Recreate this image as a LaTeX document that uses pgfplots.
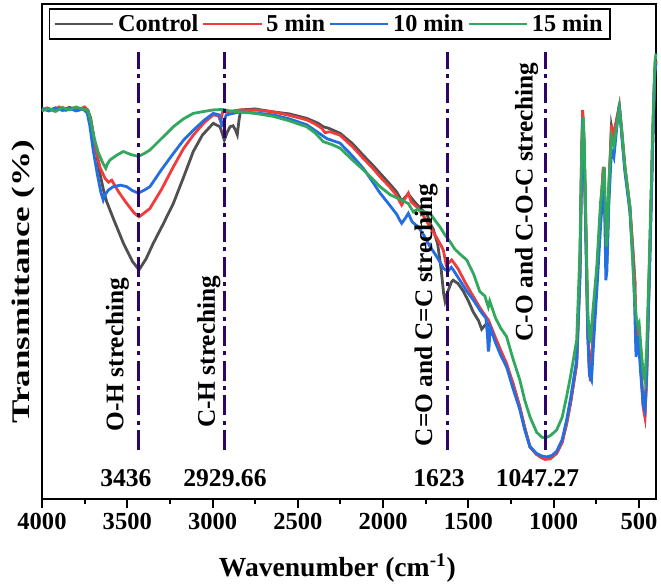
\documentclass[border=0pt]{standalone}
\usepackage{fontspec}
\setmainfont{Liberation Serif}
\usepackage{graphicx}
\usepackage{pgfplots}
\pgfplotsset{compat=1.18}
\definecolor{cgray}{RGB}{80,80,80}
\definecolor{cred}{RGB}{240,60,60}
\definecolor{cblue}{RGB}{35,110,225}
\definecolor{cgreen}{RGB}{50,168,95}
\definecolor{cvl}{RGB}{45,5,105}
\begin{document}
\begin{tikzpicture}
\begin{axis}[
 scale only axis, width=460.5pt, height=371.25pt,
 xmin=400, xmax=4000, ymin=0, ymax=100, x dir=reverse,
 xtick={500,1000,...,4000}, minor x tick num=1,
 ytick=\empty, xtick pos=left,
 tick align=outside,
 major tick length=7pt, minor tick length=3.5pt,
 every tick/.style={black, line width=1.5pt},
 axis line style={line width=1.8pt},
 clip=false,
 /pgf/number format/assume math mode=true,
 /pgf/number format/set thousands separator={},
 xticklabel style={font=\fontsize{18.4}{18.4}\selectfont\bfseries},
 xlabel={Wavenumber (cm\textsuperscript{-1})},
 xlabel style={font=\fontsize{20.7}{20.7}\selectfont\bfseries, at={([yshift=-58.3pt]axis description cs:0.481,0)}, anchor=base},
 ylabel={\scalebox{1.38}[1]{Transmittance (\%)}},
 ylabel style={font=\fontsize{19}{19}\selectfont\bfseries, at={([xshift=-14.25pt]axis description cs:0,0.439)}, anchor=center},
 legend style={at={(axis description cs:0.0107,0.991)}, anchor=north west, legend columns=4, draw=black, line width=1.2pt,
   font=\fontsize{18.2}{18.2}\selectfont\bfseries, inner xsep=3pt, inner ysep=2pt,
   /tikz/every odd column/.append style={column sep=0pt},
   /tikz/every even column/.append style={column sep=0pt},
   nodes={inner xsep=2.5pt}},
 legend image code/.code={\draw[#1, line width=2pt] (0pt,0pt) -- (44pt,0pt);},
]
\coordinate (SW) at (rel axis cs:0,0);
\coordinate (NE) at (rel axis cs:1,1);

\addplot[cgray, line width=2.1pt] coordinates {(4000,78.8) (3960,78.5) (3920,79.0) (3880,78.6) (3840,79.1) (3800,78.7) (3760,79.0) (3730,78.4) (3715,77.0) (3690,72.0) (3665,66.5) (3640,62.5) (3621,60.1) (3580,56.5) (3523,51.7) (3470,48.0) (3431,46.3) (3390,48.5) (3347,51.7) (3290,55.5) (3230,59.7) (3170,65.0) (3113,70.2) (3060,73.5) (2996,75.9) (2956,75.2) (2940,73.5) (2931,72.5) (2915,74.0) (2898,75.2) (2880,75.4) (2865,74.5) (2855,73.6) (2845,76.5) (2835,78.6) (2750,78.8) (2644,78.2) (2550,77.8) (2448,76.9) (2380,75.9) (2351,75.2) (2320,74.9) (2253,73.9) (2180,71.8) (2116,69.4) (2060,67.4) (2018,65.8) (1960,63.6) (1920,62.0) (1891,60.2) (1870,61.0) (1852,61.6) (1820,60.2) (1794,59.2) (1760,58.0) (1744,57.7) (1725,55.7) (1706,54.5) (1680,51.5) (1660,46.5) (1645,41.5) (1637,40.0) (1625,41.5) (1600,43.8) (1589,44.2) (1560,43.5) (1530,42.0) (1500,40.0) (1472,37.8) (1440,36.0) (1422,34.3) (1400,35.2) (1383,35.5) (1360,33.5) (1325,31.1) (1300,28.8) (1276,26.8) (1240,23.5) (1198,18.4) (1170,14.5) (1139,10.5) (1100,9.0) (1070,8.5) (1051,8.3) (1020,8.4) (983,9.2) (950,11.5) (924,15.2) (900,19.5) (865,27.3) (846,45) (836,68) (830,78.0) (822,72) (811,54) (800,34) (790,26.0) (784,24.5) (770,33) (747,45) (720,60) (709,66.5) (700,60) (694,50.5) (688,48) (676,62) (661,75.2) (650,73) (640,75) (615,79.4) (600,74) (582,66.8) (553,58.8) (535,50) (524,44) (517,31.5) (508,33.5) (499,32) (489,27) (475,19) (465,17.0) (455,25) (436,50) (420,72) (407,86.5) (400,88.5)};
\addlegendentry{Control}

\addplot[cred, line width=2.1pt] coordinates {(4000,78.6) (3970,79.0) (3930,78.4) (3900,79.2) (3860,78.5) (3820,79.0) (3780,78.6) (3750,79.2) (3730,78.5) (3715,76.5) (3690,71.5) (3660,67.0) (3640,65.5) (3631,64.8) (3610,64.0) (3591,64.4) (3550,62.0) (3503,59.7) (3460,57.8) (3431,57.0) (3400,57.8) (3367,58.7) (3300,62.5) (3230,67.1) (3170,70.8) (3113,73.5) (3050,76.0) (2996,77.6) (2965,77.4) (2952,76.2) (2941,78.2) (2900,78.3) (2839,78.6) (2750,78.6) (2644,78.2) (2550,77.5) (2448,76.6) (2400,75.8) (2360,74.9) (2340,74.0) (2312,74.2) (2253,73.5) (2180,71.2) (2116,68.8) (2060,66.8) (2018,65.1) (1960,63.0) (1920,61.3) (1905,60.2) (1891,59.4) (1870,60.8) (1852,61.8) (1835,60.0) (1815,59.4) (1794,58.7) (1760,57.0) (1725,55.0) (1690,53.0) (1660,51.2) (1647,50.3) (1630,47.3) (1612,47.8) (1598,48.3) (1589,47.9) (1560,46.5) (1520,43.8) (1471,40.9) (1430,38.5) (1400,37.0) (1383,36.2) (1340,32.5) (1310,30.0) (1276,27.4) (1240,23.5) (1198,18.6) (1170,14.3) (1139,10.6) (1100,9.0) (1070,8.3) (1051,8.0) (1020,8.1) (983,9.2) (950,11.5) (924,15.3) (900,19.8) (865,27.4) (846,46) (836,70) (830,78.6) (822,72) (811,55) (800,34) (790,25.5) (784,23.8) (770,32) (747,45) (720,61) (709,67.1) (700,60) (694,52) (688,51) (676,63) (661,75.6) (650,73) (640,75) (615,79.4) (600,74) (582,67) (553,59.1) (535,50) (524,44) (517,30.8) (508,34) (499,32) (489,27) (475,18.5) (465,16.6) (455,24) (436,50) (420,72) (407,86.5) (400,88.5)};
\addlegendentry{5 min}

\addplot[cblue, line width=2.1pt] coordinates {(4000,78.9) (3960,78.4) (3920,79.0) (3880,78.5) (3840,78.9) (3800,78.4) (3760,78.8) (3735,78.0) (3720,75.5) (3700,70.5) (3675,65.5) (3655,62.0) (3641,60.4) (3630,61.5) (3611,62.4) (3582,63.1) (3540,63.4) (3503,63.1) (3470,62.3) (3435,61.8) (3400,62.4) (3367,63.1) (3300,66.5) (3230,69.8) (3170,72.5) (3113,74.5) (3050,76.5) (2996,77.9) (2960,77.6) (2945,75.5) (2935,76.0) (2920,77.6) (2880,77.9) (2839,78.2) (2750,78.0) (2644,77.6) (2550,76.8) (2448,75.6) (2380,74.0) (2330,72.8) (2253,71.9) (2180,69.3) (2116,66.8) (2060,64.0) (2018,61.8) (1960,59.3) (1920,57.5) (1905,56.5) (1891,55.7) (1870,56.7) (1852,57.7) (1830,56.0) (1810,55.4) (1794,55.0) (1760,53.2) (1725,51.0) (1690,49.2) (1660,47.5) (1647,46.6) (1620,46.0) (1600,46.8) (1589,46.3) (1550,44.2) (1510,42.0) (1471,40.2) (1430,38.0) (1397,36.5) (1388,33) (1383,29.8) (1378,31) (1373,34.8) (1340,31.5) (1310,29.0) (1276,26.7) (1240,22.5) (1198,18.0) (1170,14.0) (1139,10.6) (1100,9.2) (1070,8.7) (1041,8.5) (1010,8.8) (983,9.6) (950,12.0) (924,16.0) (900,20.5) (865,28.1) (846,45) (836,68) (830,77.0) (822,71) (811,52) (800,33) (790,25.0) (778,24.0) (765,32) (747,42) (725,55) (709,63.5) (700,57) (694,44.2) (688,46) (676,60) (661,70.5) (647,69.0) (630,75) (615,79.8) (600,73) (582,66) (553,58) (535,48) (526,40) (517,28.7) (508,33) (499,30) (489,25) (475,19) (465,17.9) (455,25) (436,48) (420,70) (407,86) (400,88)};
\addlegendentry{10 min}

\addplot[cgreen, line width=2.1pt] coordinates {(4000,78.4) (3960,78.9) (3920,78.3) (3880,79.1) (3840,78.6) (3800,79.2) (3760,78.7) (3732,78.6) (3715,76.5) (3695,73.0) (3670,70.0) (3645,68.0) (3626,66.8) (3615,67.8) (3601,68.5) (3560,69.5) (3523,70.2) (3480,69.6) (3435,69.2) (3400,69.8) (3367,70.5) (3300,72.8) (3230,75.2) (3170,76.8) (3113,77.9) (3050,78.3) (2996,78.6) (2940,78.7) (2900,78.4) (2839,78.2) (2750,77.9) (2644,77.3) (2550,76.4) (2448,75.2) (2400,74.0) (2351,72.2) (2300,71.6) (2253,70.9) (2180,68.5) (2116,66.5) (2060,64.6) (2018,63.1) (1960,61.5) (1900,60.5) (1852,59.7) (1823,58.0) (1800,58.5) (1760,58.0) (1725,57.7) (1700,56.5) (1667,55.0) (1640,53.5) (1608,52.0) (1580,50.5) (1550,49.5) (1510,48.3) (1470,45.5) (1433,41.9) (1403,41.0) (1390,39.5) (1383,38.8) (1375,40.0) (1340,36.5) (1310,34.5) (1276,32.8) (1240,28.5) (1198,24.0) (1170,20.0) (1139,16.6) (1100,13.5) (1070,12.5) (1051,12.3) (1020,12.8) (983,13.9) (950,16.5) (924,20.7) (900,25.0) (865,32.1) (846,50) (836,70) (827,77.2) (820,72) (811,55) (800,38) (790,32.5) (784,32.1) (770,38) (747,47) (725,60) (703,67.1) (696,58) (690,51.0) (683,55) (676,64) (661,73.2) (647,71.5) (630,75.5) (615,79.0) (600,74) (582,67) (553,59.1) (535,47) (524,40) (514,36.2) (505,35) (499,35.5) (489,31) (475,25.5) (465,24.0) (455,30) (436,52) (420,74) (407,88) (400,90)};
\addlegendentry{15 min}

\pgfplotsset{vl/.style={cvl, line width=2pt, dash pattern=on 15pt off 4pt on 3pt off 4pt, forget plot}}
\addplot[vl] coordinates {(3436,9.9) (3436,90.3)};
\addplot[vl] coordinates {(2929.66,9.9) (2929.66,90.3)};
\addplot[vl] coordinates {(1623,9.9) (1623,90.3)};
\addplot[vl] coordinates {(1047.27,9.9) (1047.27,90.3)};

\tikzset{rl/.style={rotate=90, anchor=base west, inner sep=0pt, font=\fontsize{19}{19}\selectfont\bfseries},
         nl/.style={anchor=base, inner sep=0pt, font=\fontsize{19.2}{19.2}\selectfont\bfseries}}
\node[rl] at (axis cs:3523,13.6) {O-H streching};
\node[rl] at (axis cs:2986,14.3) {C-H streching};
\node[rl] at (axis cs:1712,10.6) {C=O and C=C streching};
\node[rl] at (axis cs:1123,31.8) {C-O and C-O-C streching};
\node[nl] at (axis cs:3508,2.5) {3436};
\node[nl] at (axis cs:2927,2.5) {2929.66};
\node[nl] at (axis cs:1672,2.5) {1623};
\node[nl] at (axis cs:1095,2.5) {1047.27};
\end{axis}
\pgfresetboundingbox
\path ([shift={(-31.5pt,-64.5pt)}]SW) rectangle ([shift={(3.75pt,3pt)}]NE);
\end{tikzpicture}
\end{document}
